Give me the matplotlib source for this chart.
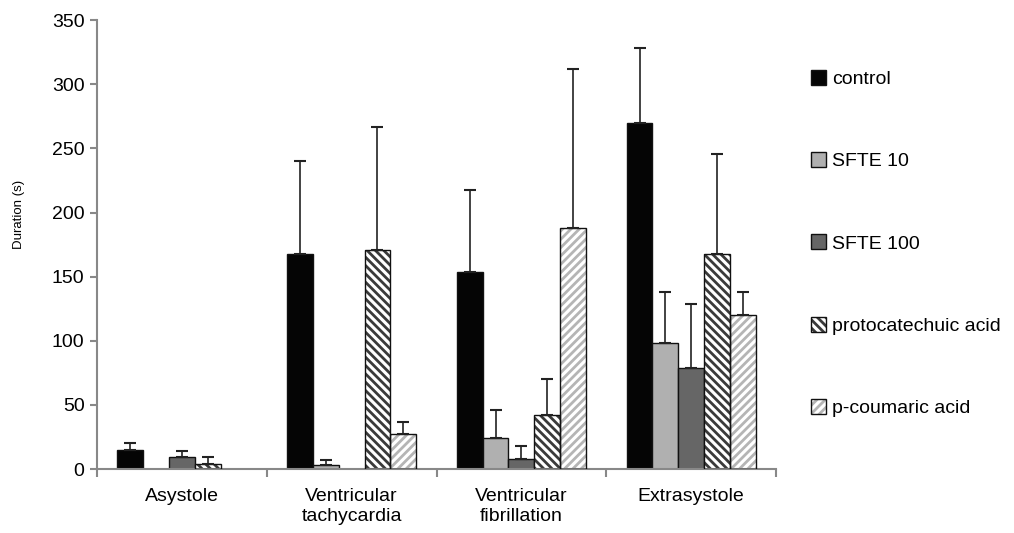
import numpy as np
import matplotlib.pyplot as plt

plt.rcParams['font.family'] = ['Liberation Sans', 'DejaVu Sans']
plt.rcParams['hatch.linewidth'] = 2.0

categories = ["Asystole", "Ventricular\ntachycardia", "Ventricular\nfibrillation", "Extrasystole"]
series = ["control", "SFTE 10", "SFTE 100", "protocatechuic acid", "p-coumaric acid"]

# mean durations (s) and upper error bar (SD), per series, per category
control = [15, 168, 154, 270]
sfte10 = [0, 3, 24, 98]
sfte100 = [9, 0, 8, 79]
protocatechuic = [4, 171, 42, 168]
p_coumaric = [0, 27, 188, 120]

control_err = [5, 72, 64, 58]
sfte10_err = [0, 4, 22, 40]
sfte100_err = [5, 0, 10, 50]
protocatechuic_err = [5, 96, 28, 78]
p_coumaric_err = [0, 10, 124, 18]

values = [control, sfte10, sfte100, protocatechuic, p_coumaric]
errors = [control_err, sfte10_err, sfte100_err, protocatechuic_err, p_coumaric_err]

# face, hatch, hatch colour
styles = [
    ("#050505", None, None),
    ("#b0b0b0", None, None),
    ("#666666", None, None),
    ("white", "\\\\\\\\", "#3a3a3a"),
    ("white", "////", "#b5b5b5"),
]

FS = 14

fig = plt.figure(figsize=(10.14, 5.33), dpi=100)
ax = fig.add_axes([0.0957, 0.12, 0.6696, 0.842])

x = np.arange(len(categories))
w = 0.152
handles = []
for i, (name, vals, errs) in enumerate(zip(series, values, errors)):
    face, hatch, hcol = styles[i]
    vals = np.array(vals, dtype=float)
    errs = np.array(errs, dtype=float)
    pos = x + (i - 2) * w
    keep = vals > 0  # empty groups draw nothing
    if hatch is None:
        h = ax.bar(pos[keep], vals[keep], w, color=face, edgecolor="#111111", linewidth=1.0, zorder=2)
    else:
        b1 = ax.bar(pos[keep], vals[keep], w, color=face, edgecolor=hcol, hatch=hatch, linewidth=0, zorder=2)
        b2 = ax.bar(pos[keep], vals[keep], w, fill=False, edgecolor="#111111", linewidth=1.0, zorder=3)
        h = (b1, b2)
    ax.errorbar(pos[keep], vals[keep], yerr=[np.zeros(keep.sum()), errs[keep]], fmt="none",
                ecolor="#222222", elinewidth=1.2, capsize=4, capthick=1.5, zorder=4)
    handles.append(h)

ax.set_ylim(0, 350)
ax.set_xlim(-0.5, 3.5)
ax.set_yticks(np.arange(0, 351, 50))
ax.set_xticks(np.arange(-0.5, 3.6, 1.0))
ax.set_xticklabels([])
ax.set_xticks(x, minor=True)
ax.set_xticklabels(categories, minor=True, fontsize=FS)
ax.tick_params(axis="x", which="minor", length=0, pad=14)
ax.tick_params(axis="x", which="major", length=6, width=1.5, color="#888888")
ax.tick_params(axis="y", length=5, width=1.5, color="#888888", labelsize=FS, pad=4)
for s in ["top", "right"]:
    ax.spines[s].set_visible(False)
for s in ["left", "bottom"]:
    ax.spines[s].set_color("#888888")
    ax.spines[s].set_linewidth(1.5)
ax.set_ylabel("Duration (s)", fontsize=9.5)
ax.yaxis.set_label_coords(-0.106, 0.568)

fig.legend(handles, series, loc="center left", bbox_to_anchor=(0.792, 0.543), frameon=False,
           fontsize=FS, handlelength=0.8, handleheight=0.8, handletextpad=0.3,
           labelspacing=3.3, borderaxespad=0)

fig.savefig("out.png", dpi=100)
